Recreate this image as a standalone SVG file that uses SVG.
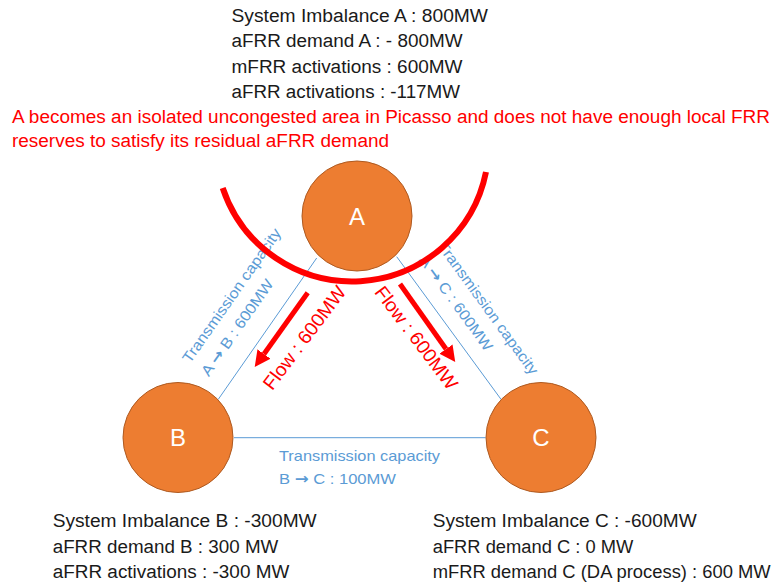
<svg xmlns="http://www.w3.org/2000/svg" width="778" height="587" viewBox="0 0 778 587">
<style>
.node circle{fill:#ED7D31;stroke:#AE5A21;stroke-width:1}
.lbl{font-family:"Liberation Sans",Arial,sans-serif;font-size:24px;fill:#fff;text-anchor:middle}
.txt{font-family:"Liberation Sans",Arial,sans-serif;font-size:18px;fill:#1a1a1a}
.red{font-family:"Liberation Sans",Arial,sans-serif;font-size:18px;fill:#FF0000}
.flowt{font-family:"Liberation Sans",Arial,sans-serif;font-size:19px;fill:#FF0000}
.blue{font-family:"Liberation Sans",Arial,sans-serif;font-size:15px;fill:#5B9BD5}
.arr{font-family:"DejaVu Sans",sans-serif;font-weight:bold}
.link{stroke:#5B9BD5;stroke-width:1;fill:none}
.flow{stroke:#FF0000;stroke-width:5;fill:none;marker-end:url(#ah)}
</style>
<defs>
<marker id="ah" markerUnits="userSpaceOnUse" viewBox="0 -8 16 16" markerWidth="16" markerHeight="16" refX="0" refY="0" orient="auto">
<path d="M0,-8 L16,0 L0,8 z" fill="#FF0000"/>
</marker>
</defs>
<rect width="778" height="587" fill="#fff"/>

<g id="connectors">
<line class="link" x1="316.7" y1="258" x2="218.3" y2="399.3"/>
<line class="link" x1="396.7" y1="256.7" x2="501" y2="399.3"/>
<line class="link" x1="234" y1="437.7" x2="485.7" y2="437.7"/>
<line class="flow" x1="307.7" y1="292.7" x2="264" y2="354"/>
<line class="flow" x1="400" y1="284" x2="446" y2="349"/>
</g>

<g id="node-A" class="node"><circle cx="357" cy="216" r="55"/><text class="lbl" x="357" y="225">A</text></g>
<g id="node-B" class="node"><circle cx="178" cy="437.5" r="55"/><text class="lbl" x="178" y="446">B</text></g>
<g id="node-C" class="node"><circle cx="541" cy="437.5" r="55"/><text class="lbl" x="541" y="446">C</text></g>

<g id="link-labels">
<g transform="translate(190,364) rotate(-55)">
<text class="blue" x="0" y="0" textLength="160" lengthAdjust="spacingAndGlyphs">Transmission capacity</text>
<text class="blue" x="0" y="23" textLength="114" lengthAdjust="spacingAndGlyphs">A <tspan class="arr">→</tspan> B : 600MW</text>
</g>
<g transform="translate(437,246.5) rotate(54)">
<text class="blue" x="0" y="0" textLength="160" lengthAdjust="spacingAndGlyphs">Transmission capacity</text>
<text class="blue" x="0" y="23" textLength="114" lengthAdjust="spacingAndGlyphs">A <tspan class="arr">→</tspan> C : 600MW</text>
</g>
<text class="blue" x="279" y="461" textLength="161" lengthAdjust="spacingAndGlyphs">Transmission capacity</text>
<text class="blue" x="279" y="484" textLength="117" lengthAdjust="spacingAndGlyphs">B <tspan class="arr">→</tspan> C : 100MW</text>
<text class="flowt" text-anchor="middle" transform="translate(309.6,341.7) rotate(-53)" textLength="124" lengthAdjust="spacingAndGlyphs">Flow : 600MW</text>
<text class="flowt" text-anchor="middle" transform="translate(411.1,341.7) rotate(53)" textLength="124" lengthAdjust="spacingAndGlyphs">Flow : 600MW</text>
</g>

<g id="isolation-arc">
<path d="M222.7,188 A136.5,136.5 0 0 0 486,172" fill="none" stroke="#FF0000" stroke-width="6"/>
</g>

<g id="info-A">
<text class="txt" x="231.5" y="21.5" textLength="256.5" lengthAdjust="spacingAndGlyphs">System Imbalance A : 800MW</text>
<text class="txt" x="231.5" y="47" textLength="231" lengthAdjust="spacingAndGlyphs">aFRR demand A : - 800MW</text>
<text class="txt" x="231.5" y="72.5" textLength="231" lengthAdjust="spacingAndGlyphs">mFRR activations : 600MW</text>
<text class="txt" x="231.5" y="98" textLength="228.5" lengthAdjust="spacingAndGlyphs">aFRR activations : -117MW</text>
</g>
<g id="note">
<text class="red" x="12" y="123.3" textLength="758" lengthAdjust="spacingAndGlyphs">A becomes an isolated uncongested area in Picasso and does not have enough local FRR</text>
<text class="red" x="12" y="146.7" textLength="377" lengthAdjust="spacingAndGlyphs">reserves to satisfy its residual aFRR demand</text>
</g>
<g id="info-B">
<text class="txt" x="52.7" y="527" textLength="264" lengthAdjust="spacingAndGlyphs">System Imbalance B : -300MW</text>
<text class="txt" x="52.7" y="552.5" textLength="225.6" lengthAdjust="spacingAndGlyphs">aFRR demand B : 300 MW</text>
<text class="txt" x="52.7" y="578" textLength="236.6" lengthAdjust="spacingAndGlyphs">aFRR activations : -300 MW</text>
</g>
<g id="info-C">
<text class="txt" x="432.7" y="527" textLength="264" lengthAdjust="spacingAndGlyphs">System Imbalance C : -600MW</text>
<text class="txt" x="432.7" y="552.5" textLength="200.6" lengthAdjust="spacingAndGlyphs">aFRR demand C : 0 MW</text>
<text class="txt" x="432.7" y="578" textLength="338" lengthAdjust="spacingAndGlyphs">mFRR demand C (DA process) : 600 MW</text>
</g>
</svg>
